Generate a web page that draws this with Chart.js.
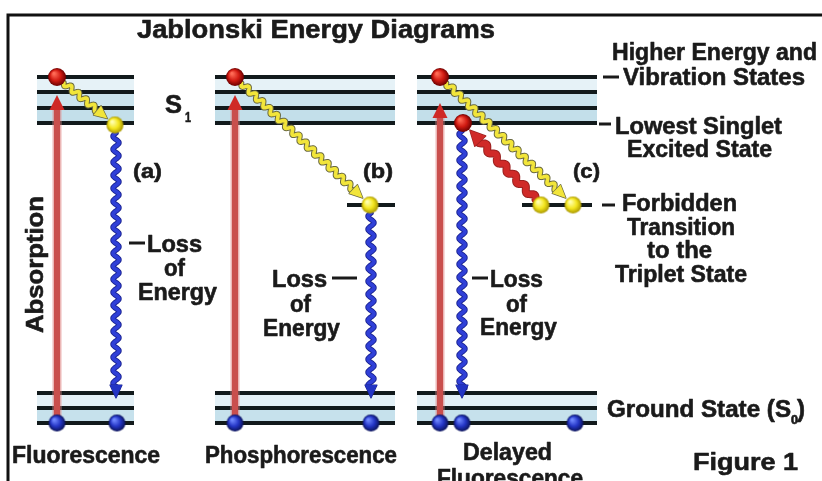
<!DOCTYPE html>
<html><head><meta charset="utf-8">
<script src="https://cdn.jsdelivr.net/npm/chart.js@4.4.1/dist/chart.umd.min.js"></script>
<style>html,body{margin:0;padding:0;background:#fff;overflow:hidden}canvas{display:block}</style>
</head><body>
<canvas id="c" width="822" height="481"></canvas>
<script>
// ---------------- diagram values (energy axis = y, panel axis = x) ----------------
const panelLabels = ['(a)', '(b)', '(c)'];
const processLabels = ['Fluorescence', 'Phosphorescence', 'Delayed', 'Fluorescence'];
const lossLabels = ['Loss', 'of', 'Energy'];
const stateLabels = ['Higher Energy and', 'Vibration States', 'Lowest Singlet', 'Excited State',
                     'Forbidden', 'Transition', 'to the', 'Triplet State', 'Ground State (S', '0', ')'];
const titleText = 'Jablonski Energy Diagrams';
const figureText = 'Figure 1';
const absorptionText = 'Absorption';

const levelLeft = [37, 215, 417];
const levelRight = [134, 395, 597];
const singletLevels = [77, 92, 108, 123];
const groundLevels = [393, 408, 423];
const tripletLevel = 205;
const tripletLeft = [347, 522];
const tripletRight = [395, 592];

const absorptionX = [57, 235, 440];
const absorptionTip = [95, 95, 103];

const redBallX = [57, 235, 440, 463];
const redBallY = [77, 77, 77, 123];
const yellowBallX = [115, 370, 541, 573];
const yellowBallY = [125, 205, 205, 205];
const blueBallX = [57, 117, 235, 371, 440, 462, 575];
const blueBallY = [423, 423, 423, 423, 423, 423, 423];

// yellow (vibrational relaxation / intersystem crossing): red ball index -> yellow ball index
const relaxFrom = [0, 1, 2];
const relaxTo = [0, 1, 3];
// blue (loss of energy to ground): x, start y
const emissionX = [116, 371, 462];
const emissionTop = [125, 205, 123];
// red wavy (back to singlet): yellow ball 2 -> red ball 3
const backFrom = 2, backTo = 3;

// ---------------- drawing helpers ----------------
const FONT = '"Liberation Sans", Arial, Helvetica, sans-serif';
function sphere(r, c0, c1, c2) {
  const c = document.createElement('canvas');
  c.width = c.height = 2 * r + 2;
  const g = c.getContext('2d');
  const grad = g.createRadialGradient(r + 1 - r * 0.35, r + 1 - r * 0.4, r * 0.1, r + 1, r + 1, r);
  grad.addColorStop(0, c0); grad.addColorStop(0.55, c1); grad.addColorStop(1, c2);
  g.fillStyle = grad; g.beginPath(); g.arc(r + 1, r + 1, r, 0, Math.PI * 2); g.fill();
  return c;
}
const redSphere = sphere(9, '#ff6a55', '#d01a12', '#6a0000');
const yellowSphere = sphere(8.5, '#ffffb0', '#f4e61e', '#a89600');
const blueSphere = sphere(8.5, '#7088ff', '#2334c4', '#0a1258');

function wavePts(x0, y0, x1, y1, amp, wl) {
  const dx = x1 - x0, dy = y1 - y0, L = Math.hypot(dx, dy);
  const ux = dx / L, uy = dy / L, nx = -uy, ny = ux;
  const pts = [];
  for (let t = 0; t <= L; t += 0.5) {
    const s = amp * Math.sin(2 * Math.PI * t / wl);
    pts.push([x0 + ux * t + nx * s, y0 + uy * t + ny * s]);
  }
  return pts;
}
function strokePts(ctx, pts, color, w) {
  ctx.beginPath();
  pts.forEach((p, i) => i ? ctx.lineTo(p[0], p[1]) : ctx.moveTo(p[0], p[1]));
  ctx.strokeStyle = color; ctx.lineWidth = w; ctx.lineJoin = 'round'; ctx.lineCap = 'round';
  ctx.stroke();
}
function head(ctx, tx, ty, ux, uy, len, wid, fill, stroke, sw) {
  const bx = tx - ux * len, by = ty - uy * len, nx = -uy, ny = ux;
  ctx.beginPath();
  ctx.moveTo(tx, ty);
  ctx.lineTo(bx + nx * wid / 2, by + ny * wid / 2);
  ctx.lineTo(bx - nx * wid / 2, by - ny * wid / 2);
  ctx.closePath();
  if (stroke) { ctx.strokeStyle = stroke; ctx.lineWidth = sw; ctx.lineJoin = 'round'; ctx.stroke(); }
  ctx.fillStyle = fill; ctx.fill();
}
function wavyArrow(ctx, x0, y0, x1, y1, o) {
  const dx = x1 - x0, dy = y1 - y0, L = Math.hypot(dx, dy), ux = dx / L, uy = dy / L;
  const sx = x0 + ux * o.start, sy = y0 + uy * o.start;
  const tx = x1 - ux * o.end, ty = y1 - uy * o.end;
  const ex = tx - ux * (o.hl - 2), ey = ty - uy * (o.hl - 2);
  const pts = wavePts(sx, sy, ex, ey, o.amp, o.wl);
  if (o.outline) strokePts(ctx, pts, o.outline, o.w + 2);
  strokePts(ctx, pts, o.color, o.w);
  head(ctx, tx, ty, ux, uy, o.hl, o.hw, o.color, o.outline, 1.4);
}
function fitText(ctx, str, l, r, b, size) {
  ctx.font = 'bold ' + size + 'px ' + FONT;
  const w = ctx.measureText(str).width;
  ctx.save();
  ctx.translate(l, b);
  ctx.scale((r - l) / w, 1);
  ctx.strokeText(str, 0, 0);
  ctx.fillText(str, 0, 0);
  ctx.restore();
}

// ---------------- datasets ----------------
const datasets = [];
for (let p = 0; p < 3; p++) {
  [...singletLevels, ...groundLevels].forEach(v => {
    datasets.push({ label: 'level', data: [{ x: levelLeft[p], y: v }, { x: levelRight[p], y: v }],
      showLine: true, borderColor: '#121a1c', borderWidth: 3.8, pointRadius: 0, order: 5 });
  });
}
tripletLeft.forEach((l, i) => {
  datasets.push({ label: 'level', data: [{ x: l, y: tripletLevel }, { x: tripletRight[i], y: tripletLevel }],
    showLine: true, borderColor: '#121a1c', borderWidth: 3.8, pointRadius: 0, order: 5 });
});
datasets.push({ label: 'transitions', data: [{ x: 0, y: 0 }], pointRadius: 0, order: 3 });
datasets.push({ label: 'red', data: redBallX.map((x, i) => ({ x, y: redBallY[i] })), pointStyle: redSphere, order: 0 });
datasets.push({ label: 'yellow', data: yellowBallX.map((x, i) => ({ x, y: yellowBallY[i] })), pointStyle: yellowSphere, order: 0 });
datasets.push({ label: 'blue', data: blueBallX.map((x, i) => ({ x, y: blueBallY[i] })), pointStyle: blueSphere, order: 0 });

const bandS1 = ['#e6f2f7', '#cbe4ee', '#c3dfea'];
const bandS0 = ['#e3f0f6', '#c6e1ec'];

const diagram = {
  id: 'diagram',
  beforeDraw(chart) {
    const ctx = chart.ctx;
    ctx.save(); ctx.fillStyle = '#fff'; ctx.fillRect(0, 0, chart.width, chart.height); ctx.restore();
  },
  beforeDatasetsDraw(chart) {
    const { ctx, scales: { x, y } } = chart;
    ctx.save();
    for (let p = 0; p < 3; p++) {
      const l = x.getPixelForValue(levelLeft[p]), r = x.getPixelForValue(levelRight[p]);
      for (let i = 0; i < singletLevels.length - 1; i++) {
        const t = y.getPixelForValue(singletLevels[i]), b = y.getPixelForValue(singletLevels[i + 1]);
        ctx.fillStyle = bandS1[i]; ctx.fillRect(l, t, r - l, b - t);
      }
      for (let i = 0; i < groundLevels.length - 1; i++) {
        const t = y.getPixelForValue(groundLevels[i]), b = y.getPixelForValue(groundLevels[i + 1]);
        ctx.fillStyle = bandS0[i]; ctx.fillRect(l, t, r - l, b - t);
      }
    }
    ctx.strokeStyle = '#111'; ctx.lineWidth = 3;
    ctx.beginPath();
    ctx.moveTo(x.getPixelForValue(8), y.getPixelForValue(490));
    ctx.lineTo(x.getPixelForValue(8), y.getPixelForValue(15));
    ctx.lineTo(x.getPixelForValue(830), y.getPixelForValue(15));
    ctx.stroke();
    ctx.restore();
  },
  afterDatasetDraw(chart, args) {
    if (chart.data.datasets[args.index].label !== 'transitions') return;
    const { ctx, scales: { x, y } } = chart;
    const X = v => x.getPixelForValue(v), Y = v => y.getPixelForValue(v);
    ctx.save();
    absorptionX.forEach((ax, i) => {
      const px = X(ax), tip = Y(absorptionTip[i]), bot = Y(groundLevels[2]);
      ctx.strokeStyle = 'rgba(230,150,150,0.35)'; ctx.lineWidth = 10;
      ctx.beginPath(); ctx.moveTo(px, bot); ctx.lineTo(px, tip + 14); ctx.stroke();
      ctx.strokeStyle = '#c94f4d'; ctx.lineWidth = 6.5;
      ctx.beginPath(); ctx.moveTo(px, bot); ctx.lineTo(px, tip + 12); ctx.stroke();
      head(ctx, px, tip, 0, -1, 15, 15, '#cf2a26', null, 0);
    });
    emissionX.forEach((ex, i) => {
      const px = X(ex), top = Y(emissionTop[i]) + 8, tipY = Y(groundLevels[0]) + 5;
      const pts = wavePts(px, top, px, tipY - 10, 3, 13);
      strokePts(ctx, pts, '#1a2390', 5.4);
      strokePts(ctx, pts, '#3040d8', 3.6);
      head(ctx, px, tipY, 0, 1, 13, 12, '#2334c4', '#1a2390', 1.2);
    });
    relaxFrom.forEach((f, i) => {
      const t = relaxTo[i];
      wavyArrow(ctx, X(redBallX[f]), Y(redBallY[f]), X(yellowBallX[t]), Y(yellowBallY[t]),
        { start: 9, end: 10, amp: 2.6, wl: 10, w: 3.6, color: '#f2e53a', outline: '#6b6a40', hl: 13, hw: 12 });
    });
    wavyArrow(ctx, X(yellowBallX[backFrom]), Y(yellowBallY[backFrom]), X(redBallX[backTo]), Y(redBallY[backTo]),
      { start: 8, end: 10, amp: 2.4, wl: 14, w: 6, color: '#d02a28', outline: '#9a2220', hl: 15, hw: 15 });
    ctx.restore();
  },
  afterDraw(chart) {
    const { ctx, scales: { x, y } } = chart;
    const X = v => x.getPixelForValue(v), Y = v => y.getPixelForValue(v);
    ctx.save();
    ctx.fillStyle = '#1a1a1a';
    ctx.strokeStyle = '#1a1a1a';
    ctx.lineWidth = 0.6;
    ctx.lineJoin = 'round';
    ctx.textBaseline = 'alphabetic';
    const T = (s, l, r, b, size) => fitText(ctx, s, X(l), X(r), Y(b), size);
    T(titleText, 137, 495, 38, 25);
    T('S', 165, 182, 113, 25); T('1', 185, 191, 122, 14);
    T(panelLabels[0], 133, 162, 178, 21);
    T(panelLabels[1], 363, 393, 178, 21);
    T(panelLabels[2], 573, 600, 178, 21);
    T(lossLabels[0], 147, 202, 252, 23); T(lossLabels[1], 164, 185, 276, 23); T(lossLabels[2], 138, 217, 300, 23);
    T(lossLabels[0], 272, 327, 287, 23); T(lossLabels[1], 290, 311, 312, 23); T(lossLabels[2], 263, 340, 336, 23);
    T(lossLabels[0], 490, 543, 287, 23); T(lossLabels[1], 506, 527, 312, 23); T(lossLabels[2], 480, 557, 335, 23);
    T(processLabels[0], 12, 160, 463, 23);
    T(processLabels[1], 205, 397, 463, 23);
    T(processLabels[2], 463, 552, 460, 23);
    T(processLabels[3], 437, 583, 486, 23);
    T(figureText, 693, 798, 470, 24);
    T(stateLabels[0], 612, 817, 60, 23);
    T(stateLabels[1], 623, 805, 85, 23);
    T(stateLabels[2], 615, 782, 134, 23);
    T(stateLabels[3], 627, 772, 157, 23);
    T(stateLabels[4], 622, 737, 211, 23);
    T(stateLabels[5], 627, 735, 235, 23);
    T(stateLabels[6], 647, 712, 258, 23);
    T(stateLabels[7], 615, 747, 282, 23);
    T(stateLabels[8], 607, 791, 417, 23);
    T(stateLabels[9], 791, 798, 424, 12);
    T(stateLabels[10], 797, 805, 417, 23);
    ctx.font = 'bold 23px ' + FONT;
    const w = ctx.measureText(absorptionText).width;
    ctx.save();
    ctx.translate(X(43), Y(333));
    ctx.rotate(-Math.PI / 2);
    ctx.scale((Y(333) - Y(196)) / w, 1);
    ctx.strokeText(absorptionText, 0, 0);
    ctx.fillText(absorptionText, 0, 0);
    ctx.restore();
    ctx.lineWidth = 3; ctx.lineCap = 'butt';
    const D = (l, r, yy) => { ctx.beginPath(); ctx.moveTo(X(l), Y(yy)); ctx.lineTo(X(r), Y(yy)); ctx.stroke(); };
    D(129, 145, 243); D(332, 357, 278); D(472, 488, 278);
    D(603, 619, 77); D(599, 611, 124); D(602, 615, 205);
    ctx.restore();
  }
};

new Chart(document.getElementById('c'), {
  type: 'scatter',
  data: { datasets },
  options: {
    responsive: false, animation: false, events: [],
    layout: { padding: 0, autoPadding: false },
    plugins: { legend: { display: false }, tooltip: { enabled: false } },
    scales: {
      x: { type: 'linear', min: 0, max: 822, display: false },
      y: { type: 'linear', min: 0, max: 481, reverse: true, display: false }
    },
    elements: { point: { radius: 9 } }
  },
  plugins: [diagram]
});
</script>
</body></html>
